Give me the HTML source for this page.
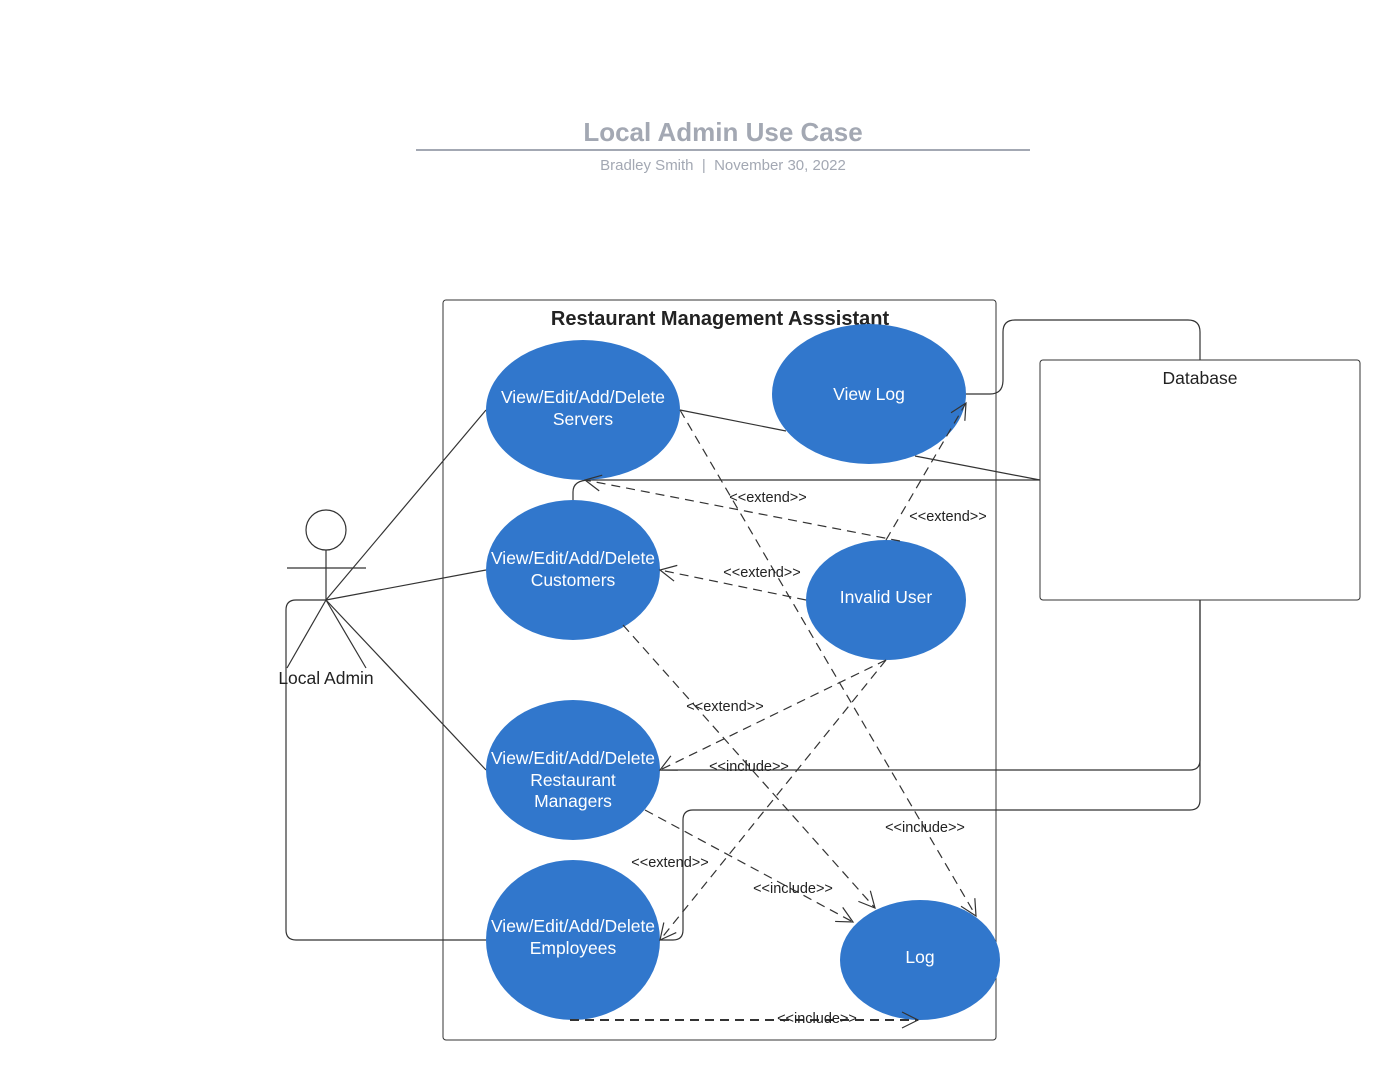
<!DOCTYPE html>
<html><head><meta charset="utf-8"><style>
html,body{margin:0;padding:0;background:#fff;}
svg{display:block;font-family:"Liberation Sans",Arial,sans-serif;}
</style></head><body>
<svg width="1400" height="1080" viewBox="0 0 1400 1080" xmlns="http://www.w3.org/2000/svg">
<defs>
<marker id="a" markerWidth="20" markerHeight="20" refX="18" refY="10" orient="auto" markerUnits="userSpaceOnUse">
<path d="M2,2 L18,10 L2,18" fill="none" stroke="#333" stroke-width="1.2"/></marker>
</defs>
<text x="723" y="141" text-anchor="middle" font-size="26" font-weight="bold" fill="#a3a8b3">Local Admin Use Case</text>
<line x1="416" y1="150" x2="1030" y2="150" stroke="#a3a8b3" stroke-width="2"/>
<text x="723" y="170" text-anchor="middle" font-size="15" fill="#a3a8b3" xml:space="preserve">Bradley Smith  |  November 30, 2022</text>

<rect x="443" y="300" width="553" height="740" rx="3" fill="none" stroke="#333" stroke-width="1"/>
<text x="720" y="325" text-anchor="middle" font-size="20" font-weight="bold" fill="#222">Restaurant Management Asssistant</text>
<rect x="1040" y="360" width="320" height="240" rx="3" fill="none" stroke="#333" stroke-width="1"/>
<text x="1200" y="384" text-anchor="middle" font-size="17.5" fill="#222">Database</text>

<g stroke="#333" stroke-width="1.2" fill="none">
<circle cx="326" cy="530" r="20" fill="#fff"/>
<line x1="326" y1="550" x2="326" y2="600"/>
<line x1="287" y1="568" x2="366" y2="568"/>
<line x1="326" y1="600" x2="287" y2="668"/>
<line x1="326" y1="600" x2="366" y2="668"/>
<line x1="326" y1="600" x2="486" y2="410"/>
<line x1="326" y1="600" x2="486" y2="570"/>
<line x1="326" y1="600" x2="486" y2="770"/>
<path d="M326,600 H296 Q286,600 286,610 V930 Q286,940 296,940 H486"/>
<line x1="680" y1="410" x2="786" y2="431"/>
<line x1="915" y1="456" x2="1040" y2="480"/>
<path d="M1040,480 H590 Q573,480 573,492 V500"/>
<path d="M966,394 H990 Q1003,394 1003,380 V332 Q1003,320 1015,320 H1188 Q1200,320 1200,332 V360"/>
<path d="M1200,600 V760 Q1200,770 1190,770 H660"/>
<path d="M1200,600 V800 Q1200,810 1190,810 H693 Q683,810 683,820 V930 Q683,940 673,940 H660"/>
</g>
<text x="326" y="684" text-anchor="middle" font-size="17.5" fill="#222">Local Admin</text>

<g fill="#3177cc">
<ellipse cx="583" cy="410" rx="97" ry="70"/>
<ellipse cx="869" cy="394" rx="97" ry="70"/>
<ellipse cx="573" cy="570" rx="87" ry="70"/>
<ellipse cx="886" cy="600" rx="80" ry="60"/>
<ellipse cx="573" cy="770" rx="87" ry="70"/>
<ellipse cx="573" cy="940" rx="87" ry="80"/>
<ellipse cx="920" cy="960" rx="80" ry="60"/>
</g>

<g stroke="#333" stroke-width="1.2" fill="none" stroke-dasharray="9,6" marker-end="url(#a)">
<line x1="680" y1="410" x2="976" y2="916"/>
<line x1="886" y1="540" x2="966" y2="403"/>
<line x1="900" y1="541" x2="585" y2="480"/>
<line x1="806" y1="600" x2="660" y2="570"/>
<line x1="886" y1="660" x2="660" y2="770"/>
<line x1="886" y1="660" x2="660" y2="940"/>
<line x1="623" y1="625" x2="875" y2="908"/>
<line x1="645" y1="810" x2="853" y2="922"/>
<line x1="570" y1="1020" x2="918" y2="1020" stroke-width="2"/>
</g>

<g font-size="14.5" fill="#222" text-anchor="middle">
<text x="768" y="502">&lt;&lt;extend&gt;&gt;</text>
<text x="948" y="521">&lt;&lt;extend&gt;&gt;</text>
<text x="762" y="577">&lt;&lt;extend&gt;&gt;</text>
<text x="725" y="711">&lt;&lt;extend&gt;&gt;</text>
<text x="749" y="771">&lt;&lt;include&gt;&gt;</text>
<text x="925" y="832">&lt;&lt;include&gt;&gt;</text>
<text x="670" y="867">&lt;&lt;extend&gt;&gt;</text>
<text x="793" y="893">&lt;&lt;include&gt;&gt;</text>
<text x="817" y="1023">&lt;&lt;include&gt;&gt;</text>
</g>

<g font-size="17.5" fill="#fff" text-anchor="middle">
<text x="583" y="403">View/Edit/Add/Delete</text>
<text x="583" y="425">Servers</text>
<text x="869" y="400">View Log</text>
<text x="573" y="564">View/Edit/Add/Delete</text>
<text x="573" y="586">Customers</text>
<text x="886" y="603">Invalid User</text>
<text x="573" y="764">View/Edit/Add/Delete</text>
<text x="573" y="786">Restaurant</text>
<text x="573" y="807">Managers</text>
<text x="573" y="932">View/Edit/Add/Delete</text>
<text x="573" y="954">Employees</text>
<text x="920" y="963">Log</text>
</g>
</svg>
</body></html>
